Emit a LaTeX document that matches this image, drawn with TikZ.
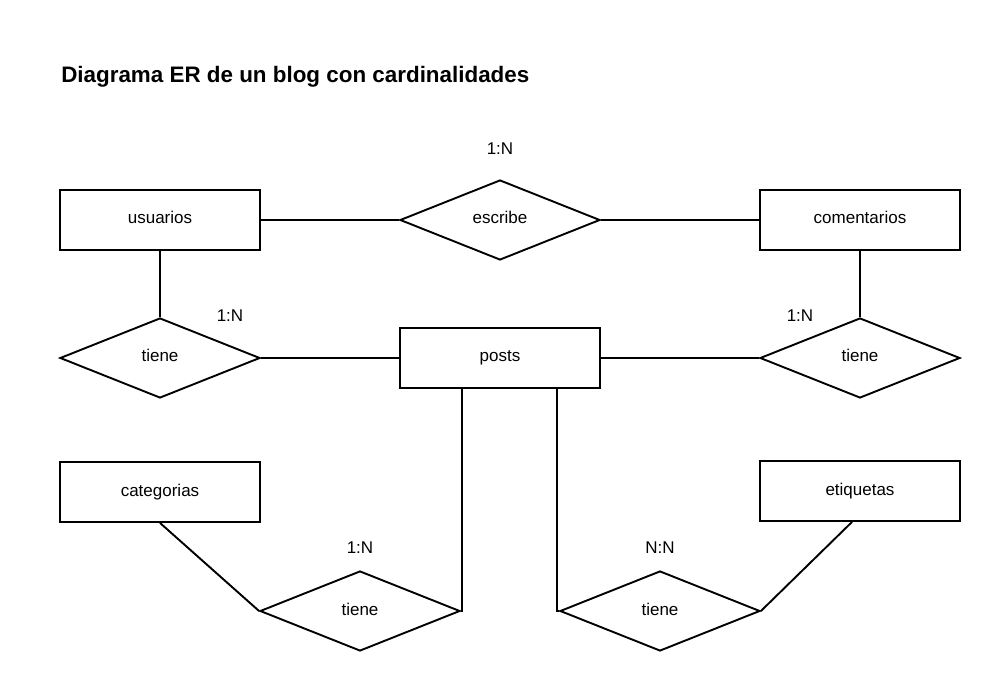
\documentclass[tikz,border=0pt]{standalone}
\usepackage{fontspec}
\setmainfont{Liberation Sans}
\usetikzlibrary{shapes.geometric}

\begin{document}
\begin{tikzpicture}[x=1pt, y=-1pt, line width=1.9pt,
	entity/.style = {draw, rectangle, minimum width=200pt, minimum height=60pt, text height=13pt, text depth=5pt, font=\fontsize{17}{20}\selectfont},
	rel/.style = {draw, diamond, minimum width=200pt, minimum height=80pt, inner sep=0pt, text height=13pt, text depth=5pt, font=\fontsize{17}{20}\selectfont},
	card/.style = {font=\fontsize{17}{20}\selectfont}]
	\useasboundingbox (0,0) rectangle (996,700);
	\node[anchor=base west, font=\fontsize{22.4}{26}\selectfont\bfseries] (titulo) at (57,83) {Diagrama ER de un blog con cardinalidades};
	\node[entity] (usuarios) at (160,220) {usuarios};
	\node[rel] (escribe) [right of=usuarios, node distance=340pt] {escribe};
	\node[entity] (comentarios) [right of=escribe, node distance=360pt] {comentarios};
	\node[rel] (tiene1) [below of=usuarios, node distance=138pt] {tiene};
	\node[entity] (posts) [below of=escribe, node distance=138pt] {posts};
	\node[rel] (tiene2) [below of=comentarios, node distance=138pt] {tiene};
	\node[entity] (categorias) [below of=usuarios, node distance=272pt] {categorias};
	\node[entity] (etiquetas) [below of=comentarios, node distance=271pt] {etiquetas};
	\node[rel] (tiene3) at (360,611) {tiene};
	\node[rel] (tiene4) at (660,611) {tiene};
	\node[card] (c1) at (500,149) {1:N};
	\node[card] (c2) at (230,316) {1:N};
	\node[card] (c3) at (800,316) {1:N};
	\node[card] (c4) at (360,548) {1:N};
	\node[card] (c5) at (660,548) {N:N};
	\draw (usuarios) -- (escribe);
	\draw (escribe) -- (comentarios);
	\draw (usuarios) -- (tiene1);
	\draw (tiene1) -- (posts);
	\draw (posts) -- (tiene2);
	\draw (comentarios) -- (tiene2);
	\draw (categorias.south) -- (tiene3.west);
	\draw ([xshift=-8pt]etiquetas.south) -- (tiene4.east);
	\draw ([xshift=-38pt]posts.south) |- (tiene3.east);
	\draw ([xshift=57pt]posts.south) |- (tiene4.west);
\end{tikzpicture}
\end{document}
